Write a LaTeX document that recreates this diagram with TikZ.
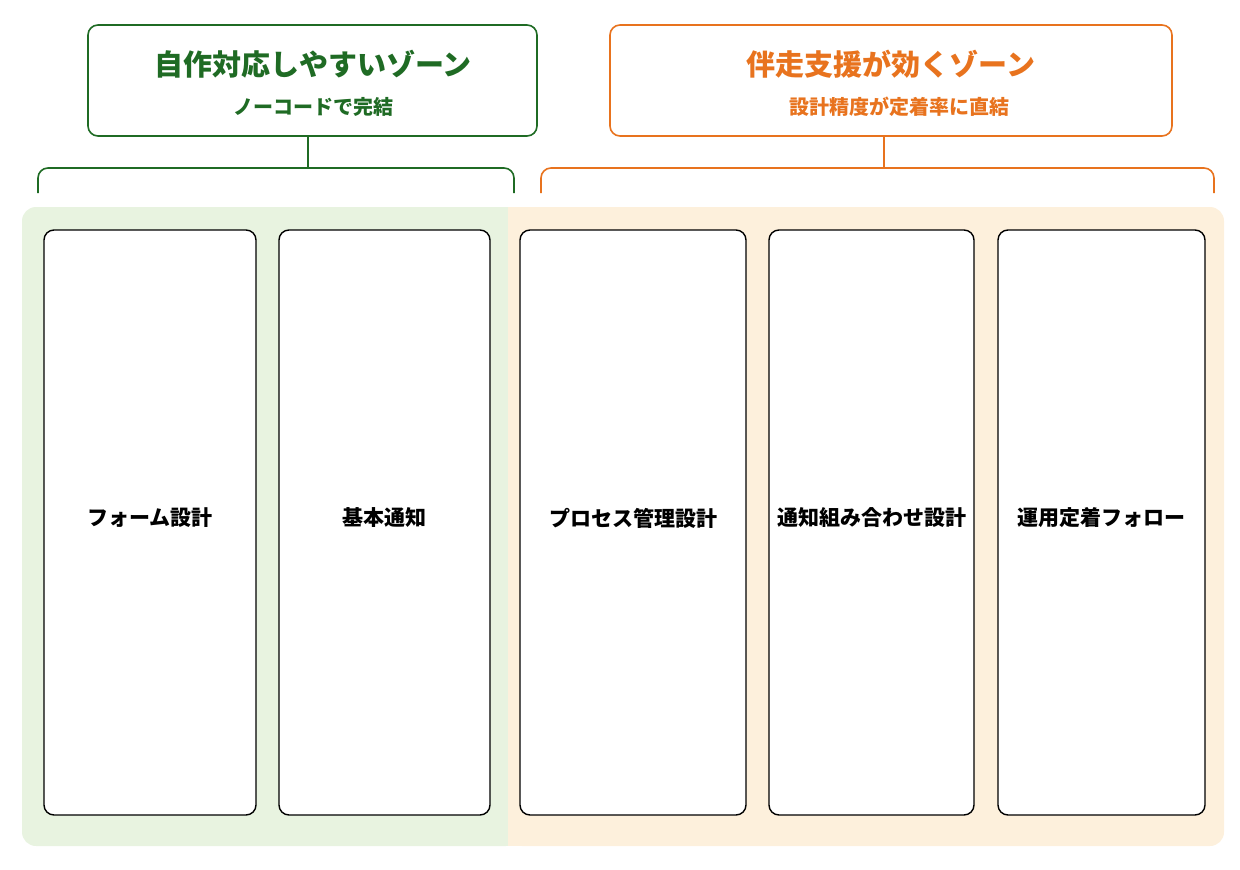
\documentclass[tikz,border=0pt]{standalone}
\usepackage{fontspec}
\setmainfont{Noto Sans CJK JP}
\usetikzlibrary{positioning}
\definecolor{zgreen}{HTML}{1F6B24}
\definecolor{zorange}{HTML}{E8731E}
\definecolor{bggreen}{HTML}{E8F3E0}
\definecolor{bgorange}{HTML}{FDF0DC}
\begin{document}
\begin{tikzpicture}[x=1pt,y=-1pt,
	head/.style={draw, line width=1.6pt, rounded corners=10pt, fill=white},
	card/.style={draw=black, line width=1.4pt, rounded corners=10pt, fill=white},
	lbl/.style={font=\fontsize{21}{24}\selectfont\bfseries},
	brace/.style={line width=1.6pt, rounded corners=10pt}]
	\useasboundingbox (0,0) rectangle (1240,870);
	% zones
	\fill[bggreen, rounded corners=14pt] (22,207) rectangle (520,846);
	\fill[bgorange, rounded corners=14pt] (508,207) rectangle (1224,846);
	\fill[bgorange] (508,207) rectangle (530,846);
	% header boxes
	\draw[head, draw=zgreen] (88,25) rectangle (537,136);
	\node[text=zgreen, font=\fontsize{29}{32}\selectfont\bfseries] (gtitle) at (313,64) {自作対応しやすいゾーン};
	\node[text=zgreen, font=\fontsize{20}{24}\selectfont\bfseries] (gsub) at (313,107) {ノーコードで完結};
	\draw[head, draw=zorange] (610,25) rectangle (1172,136);
	\node[text=zorange, font=\fontsize{29}{32}\selectfont\bfseries] (otitle) at (891,64) {伴走支援が効くゾーン};
	\node[text=zorange, font=\fontsize{20}{24}\selectfont\bfseries] (osub) at (899,107) {設計精度が定着率に直結};
	% braces
	\draw[brace, zgreen] (38,193) -- (38,168) -- (514,168) -- (514,193);
	\draw[zgreen, line width=1.6pt] (308,136) -- (308,168);
	\draw[brace, zorange] (541,193) -- (541,168) -- (1214,168) -- (1214,193);
	\draw[zorange, line width=1.6pt] (884,136) -- (884,168);
	% cards
	\foreach \a/\b/\t [count=\i] in {44/256/フォーム設計, 279/490/基本通知, 520/746/プロセス管理設計, 769/974/通知組み合わせ設計, 998/1205/運用定着フォロー}{
		\draw[card] (\a,230) rectangle (\b,815);
		\node[lbl] (card\i) at ({(\a+\b)/2},518) {\t};
	}
\end{tikzpicture}
\end{document}
